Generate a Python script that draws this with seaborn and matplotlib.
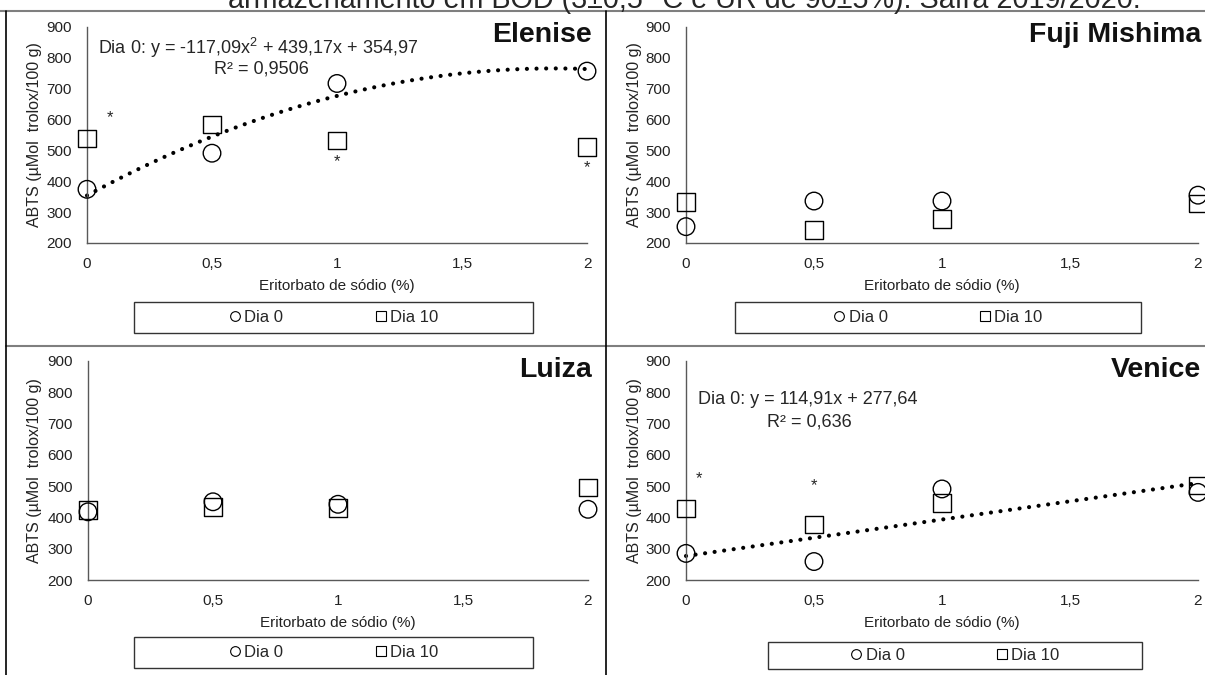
import numpy as np
import pandas as pd
import matplotlib.pyplot as plt
import seaborn as sns
from matplotlib.lines import Line2D
from matplotlib.patches import Rectangle

# dados (ABTS, umol trolox/100 g)
eritorbato = [0, 0.5, 1, 2]
x_ticks = [0, 0.5, 1, 1.5, 2]
x_ticklabels = ['0', '0,5', '1', '1,5', '2']
y_ticks = [200, 300, 400, 500, 600, 700, 800, 900]

elenise_d0 = [374, 491, 717, 757]
elenise_d10 = [538, 584, 532, 511]
fuji_d0 = [253, 336, 336, 355]
fuji_d10 = [333, 243, 278, 328]
luiza_d0 = [418, 450, 442, 426]
luiza_d10 = [424, 434, 431, 495]
venice_d0 = [285, 259, 491, 480]
venice_d10 = [429, 378, 447, 502]

elenise_ast = [(0.09, 605), (1, 464), (2, 445)]
venice_ast = [(0.05, 525), (0.5, 502)]

titulo = 'armazenamento em BOD (3±0,5 °C e UR de 90±5%). Safra 2019/2020.'

W, H = 1205, 675

def fx(x):
    return x / W

def fy(y):
    return 1 - y / H

# painel: nome, dados, ordem da tendencia, equacao, asteriscos,
# eixos (esq, dir, topo, base) em px, caixa da legenda (esq, dir, topo, base)
paineis = [
    dict(nome='Elenise', d0=elenise_d0, d10=elenise_d10, ordem=2,
         eq=('Dia 0: y = -117,09x$^2$ + 439,17x + 354,97', (98, 48), 'R² = 0,9506', (261, 69)),
         ast=elenise_ast, eixo=(87, 587, 27, 243), leg=(134, 533, 302, 333), tit=(592, 35), ylab=35),
    dict(nome='Fuji Mishima', d0=fuji_d0, d10=fuji_d10, ordem=None, eq=None, ast=[],
         eixo=(686, 1198, 27, 243), leg=(735, 1141, 302, 333), tit=(1201, 35), ylab=635),
    dict(nome='Luiza', d0=luiza_d0, d10=luiza_d10, ordem=None, eq=None, ast=[],
         eixo=(88, 588, 361, 580), leg=(134, 533, 637, 668), tit=(592, 370), ylab=35),
    dict(nome='Venice', d0=venice_d0, d10=venice_d10, ordem=1,
         eq=('Dia 0: y = 114,91x + 277,64', (698, 400), 'R² = 0,636', (809, 422)),
         ast=venice_ast, eixo=(686, 1198, 361, 580), leg=(768, 1142, 642, 669), tit=(1201, 370), ylab=635),
]

sns.set_theme(style='white')
plt.rcParams['font.family'] = ['Liberation Sans', 'DejaVu Sans']
plt.rcParams['mathtext.fontset'] = 'custom'
plt.rcParams['mathtext.rm'] = 'Liberation Sans'
plt.rcParams['mathtext.it'] = 'Liberation Sans'

fig = plt.figure(figsize=(W / 100, H / 100), dpi=100)

for p in paineis:
    l, r, t, b = p['eixo']
    ax = fig.add_axes([fx(l), fy(b), (r - l) / W, (b - t) / H])
    df = pd.DataFrame({
        'x': eritorbato * 2,
        'abts': p['d0'] + p['d10'],
        'dia': ['Dia 0'] * 4 + ['Dia 10'] * 4,
    })
    sns.scatterplot(data=df, x='x', y='abts', style='dia',
                    markers={'Dia 0': 'o', 'Dia 10': 's'}, s=160,
                    color='black', facecolor='none', edgecolor='black',
                    linewidth=1, legend=False, clip_on=False, zorder=3, ax=ax)
    if p['ordem']:
        sns.regplot(x=eritorbato, y=p['d0'], order=p['ordem'], ci=None,
                    scatter=False, color='black', ax=ax,
                    line_kws=dict(lw=3, ls=(0, (0.01, 2.3)),
                                  dash_capstyle='round', clip_on=False))
    for xa, ya in p['ast']:
        ax.text(xa, ya, '*', ha='center', va='center', fontsize=12)

    ax.set_xlim(0, 2)
    ax.set_ylim(200, 900)
    ax.set_xticks(x_ticks)
    ax.set_xticklabels(x_ticklabels)
    ax.set_yticks(y_ticks)
    ax.tick_params(length=0, labelsize=11, colors='#222222')
    ax.tick_params(axis='x', pad=10)
    ax.tick_params(axis='y', pad=11)
    for s in ['top', 'right']:
        ax.spines[s].set_visible(False)
    for s in ['left', 'bottom']:
        ax.spines[s].set_color('#595959')
        ax.spines[s].set_linewidth(1)
    ax.set_xlabel('Eritorbato de sódio (%)', fontsize=11, color='#222222')
    ax.set_ylabel('ABTS (µMol  trolox/100 g)', fontsize=11.5, color='#222222')
    ax.xaxis.set_label_coords(0.5, -43 / (b - t))
    ax.yaxis.set_label_coords(-(l - p['ylab']) / (r - l), 0.5)
    ax.xaxis.label.set_va('center')
    ax.yaxis.label.set_va('center')

    tx, ty = p['tit']
    fig.text(fx(tx), fy(ty), p['nome'], ha='right', va='center',
             fontsize=20.5, fontweight='bold', color='#111111')
    if p['eq']:
        eq, (ex, ey), r2, (rx, ry) = p['eq']
        fig.text(fx(ex), fy(ey), eq, ha='left', va='center', fontsize=13)
        fig.text(fx(rx), fy(ry), r2, ha='center', va='center', fontsize=13)

    bl, br, bt, bb = p['leg']
    fig.add_artist(Rectangle((fx(bl), fy(bb)), (br - bl) / W, (bb - bt) / H,
                             transform=fig.transFigure, fill=False,
                             edgecolor='#333333', linewidth=1))
    handles = [
        Line2D([], [], ls='none', marker='o', ms=7, mfc='none', mec='black', mew=0.8),
        Line2D([], [], ls='none', marker='s', ms=7, mfc='none', mec='black', mew=0.8),
    ]
    fig.legend(handles, ['Dia 0', 'Dia 10'], loc='center',
               bbox_to_anchor=(fx((bl + br) / 2), fy((bt + bb) / 2)),
               ncol=2, frameon=False, fontsize=12, handlelength=0.7,
               handletextpad=0.2, columnspacing=5.5, borderpad=0)

# titulo cortado no topo
fig.text(fx(228), fy(8), titulo, ha='left', va='baseline', fontsize=20.7)

# linhas da tabela
fig.add_artist(Line2D([0, 1], [fy(11), fy(11)], transform=fig.transFigure,
                      color='#7f7f7f', lw=1.5))
fig.add_artist(Line2D([fx(6), 1], [fy(346), fy(346)], transform=fig.transFigure,
                      color='#7f7f7f', lw=1.5))
fig.add_artist(Line2D([fx(6), fx(6)], [fy(11), 0], transform=fig.transFigure,
                      color='black', lw=1.2))
fig.add_artist(Line2D([fx(606), fx(606)], [fy(11), 0], transform=fig.transFigure,
                      color='black', lw=1.2))

fig.savefig('out.png', dpi=100)
